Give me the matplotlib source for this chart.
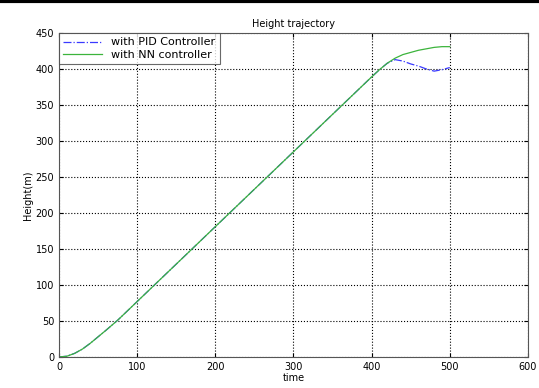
import numpy as np
import matplotlib.pyplot as plt
from matplotlib.lines import Line2D

# valores
t_pid = [0, 10, 20, 30, 40, 50, 60, 75, 100, 200, 300, 400, 410, 420, 430, 440, 450, 460, 470, 480, 490, 500]
h_pid = [0, 1, 5, 11, 19, 28, 37, 51, 77, 181, 285, 389, 399, 408, 413, 411, 407, 404, 400, 397, 399, 402]
t_nn = [0, 10, 20, 30, 40, 50, 60, 75, 100, 200, 300, 400, 410, 420, 430, 440, 450, 460, 470, 480, 490, 500]
h_nn = [0, 1, 5, 11, 19, 28, 37, 51, 77, 181, 285, 389, 399, 408, 415, 420, 423, 426, 428, 430, 431, 431]

xticks = [0, 100, 200, 300, 400, 500, 600]
yticks = [0, 50, 100, 150, 200, 250, 300, 350, 400, 450]

fig = plt.figure(figsize=(5.39, 3.88), dpi=100)
ax = fig.add_axes([0.1095, 0.080, 0.870, 0.835])

ax.plot(t_pid, h_pid, color="#3a3aff", linestyle="-.", linewidth=0.9, label="with PID Controller")
ax.plot(t_nn, h_nn, color="#3cb43c", linestyle="-", linewidth=0.9, label="with NN controller")

ax.set_xlim(0, 600)
ax.set_ylim(0, 450)
ax.set_xticks(xticks)
ax.set_yticks(yticks)
ax.tick_params(direction="in", top=True, right=True, labelsize=7, length=3)
ax.grid(True, color="black", linestyle=":", linewidth=0.8)
for s in ax.spines.values():
    s.set_color("#555555")

ax.set_title("Height trajectory", fontsize=7, pad=4)
ax.set_xlabel("time", fontsize=7, labelpad=1)
ax.set_ylabel("Height(m)", fontsize=7, labelpad=2)

leg = ax.legend(loc="upper left", fontsize=8, frameon=True, fancybox=False,
                borderpad=0.4, handlelength=3.5, labelspacing=0.2, borderaxespad=0)
leg.get_frame().set_edgecolor("#444444")
leg.get_frame().set_linewidth(0.8)

# barra negra arriba
fig.add_artist(Line2D([0, 1], [0.997, 0.997], color="black", linewidth=3, transform=fig.transFigure))

fig.savefig("out.png", dpi=100)
